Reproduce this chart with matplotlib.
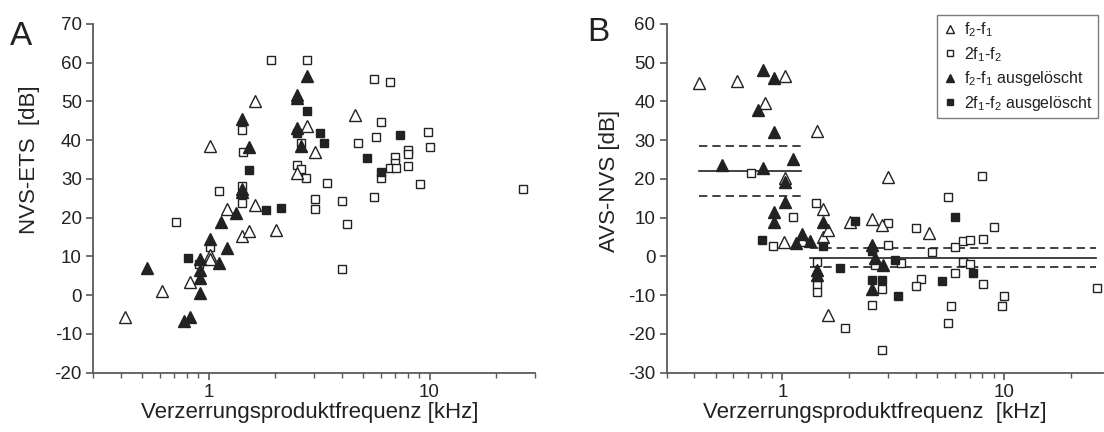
import matplotlib
matplotlib.use("Agg")
import matplotlib.pyplot as plt
from matplotlib.ticker import LogLocator, NullFormatter, FixedLocator, FixedFormatter
from matplotlib.lines import Line2D

plt.rcParams['font.family'] = ['Liberation Sans', 'DejaVu Sans']
plt.rcParams['mathtext.fontset'] = 'custom'
plt.rcParams['mathtext.rm'] = 'Liberation Sans'
plt.rcParams['axes.unicode_minus'] = False

# ---- panel A: NVS-ETS vs. distortion product frequency ----
a_tri_open_f = [1.615, 2.80, 1.02, 2.51, 1.615, 1.215, 1.41, 1.517, 2.02, 1.015, 1.015, 0.826, 0.617, 0.417, 4.61, 3.02]
a_tri_open_v = [50.1, 43.6, 38.5, 31.6, 23.4, 22.2, 15.4, 16.5, 16.9, 10.5, 9.3, 3.3, 1.2, -5.7, 46.5, 36.9]

a_sq_open_f = [1.91, 2.80, 5.62, 6.61, 1.415, 2.62, 1.43, 2.51, 2.63, 2.76, 1.113, 1.41, 1.41, 1.015, 0.904,
               0.714, 6.02, 5.71, 9.83, 4.74, 10.02, 8.03, 8.03, 7.0, 7.0, 8.03, 6.63, 7.05, 6.0, 3.43, 9.01,
               3.02, 3.02, 4.01, 5.62, 4.22, 4.01, 26.4]
a_sq_open_v = [60.7, 60.7, 55.8, 55.0, 42.6, 39.4, 37.0, 33.6, 32.5, 30.2, 26.9, 28.2, 23.7, 12.4, 8.0,
               18.8, 44.8, 40.9, 42.0, 39.2, 38.3, 37.5, 36.4, 35.8, 34.0, 33.4, 32.8, 32.8, 30.3, 28.9, 28.7,
               24.8, 22.2, 24.4, 25.3, 18.4, 6.7, 27.4]

a_tri_fill_f = [2.78, 2.50, 2.50, 1.415, 2.50, 2.62, 1.517, 1.415, 1.415, 1.325, 1.137, 1.014, 1.215, 0.917,
                1.113, 0.917, 0.917, 0.917, 0.526, 0.771, 0.82]
a_tri_fill_v = [56.7, 51.6, 50.8, 45.5, 43.1, 38.5, 38.3, 26.6, 27.5, 21.3, 19.0, 14.6, 12.3, 9.3,
                8.2, 6.5, 4.5, 0.5, 7.1, -6.7, -5.5]

a_sq_fill_f = [2.78, 2.50, 1.517, 1.81, 2.117, 0.806, 3.21, 3.32, 7.32, 5.23, 6.0]
a_sq_fill_v = [47.5, 41.8, 32.3, 22.0, 22.4, 9.5, 41.8, 39.2, 41.4, 35.3, 31.7]

# ---- panel B: AVS-NVS vs. distortion product frequency ----
b_tri_open_f = [0.421, 0.623, 1.028, 0.836, 1.43, 1.028, 1.52, 1.018, 1.223, 1.53, 1.61, 1.61, 2.02, 2.53,
                2.81, 2.99, 4.60]
b_tri_open_v = [44.7, 45.4, 46.6, 39.5, 32.5, 20.2, 12.2, 3.8, 4.3, 4.9, 6.8, -15.1, 9.0, 9.6,
                8.1, 20.6, 6.1]

b_sq_open_f = [0.72, 1.42, 1.12, 0.911, 1.43, 1.43, 1.43, 2.99, 2.99, 2.62, 2.83, 2.53, 5.61, 4.01, 9.01,
               7.93, 4.73, 6.01, 6.55, 7.03, 8.02, 3.43, 6.55, 7.03, 6.01, 4.22, 4.01, 8.02, 5.75, 10.0,
               9.77, 5.61, 1.92, 2.83, 26.2]
b_sq_open_v = [21.5, 13.7, 10.1, 2.8, -1.3, -7.4, -9.1, 8.7, 3.0, -2.2, -8.5, -12.5, 15.3, 7.3, 7.7,
               20.8, 1.2, 2.4, 4.0, 4.3, 4.4, -1.6, -1.3, -1.9, -4.2, -5.8, -7.6, -7.2, -12.7, -10.2,
               -12.8, -17.2, -18.4, -24.1, -8.2]

b_tri_fill_f = [0.821, 0.92, 0.774, 0.92, 0.533, 0.821, 1.12, 1.028, 1.028, 0.92, 0.92, 1.153, 1.223, 1.333,
                1.52, 1.43, 1.43, 2.53, 2.62, 2.84, 2.53]
b_tri_fill_v = [48.0, 46.0, 37.8, 32.2, 23.6, 22.8, 25.1, 19.1, 14.0, 11.5, 9.0, 3.4, 5.8, 4.0,
                9.0, -3.5, -4.8, 3.0, -0.3, -2.2, -8.5]

b_sq_fill_f = [0.807, 1.53, 2.13, 6.01, 1.82, 2.53, 3.22, 7.27, 5.24, 2.53, 2.83, 3.32]
b_sq_fill_v = [4.3, 2.7, 9.2, 10.1, -3.0, 1.5, -0.9, -4.2, -6.3, -6.1, -6.1, -10.1]

# group means with spread (solid = mean, dashed = +/- spread)
low_range = [0.42, 1.22]
low_mean, low_spread = 22.0, 6.5
high_range = [1.33, 26.0]
high_mean, high_spread = -0.3, 2.4

legend_labels = [r'f$_\mathregular{2}$-f$_\mathregular{1}$',
                 r'2f$_\mathregular{1}$-f$_\mathregular{2}$',
                 r'f$_\mathregular{2}$-f$_\mathregular{1}$ ausgelöscht',
                 r'2f$_\mathregular{1}$-f$_\mathregular{2}$ ausgelöscht']

ink = '#222222'
axis_grey = '#5a5a5a'

tri_open = dict(marker='^', ms=8, mfc='white', mec=ink, mew=1.0, ls='none')
sq_open = dict(marker='s', ms=5.5, mfc='white', mec=ink, mew=1.0, ls='none')
tri_fill = dict(marker='^', ms=8, mfc=ink, mec=ink, mew=1.0, ls='none')
sq_fill = dict(marker='s', ms=5.5, mfc=ink, mec=ink, mew=1.0, ls='none')

fig = plt.figure(figsize=(11.04, 4.32), dpi=100)
axA = fig.add_axes([93 / 1104, 1 - 372.7 / 432, 442 / 1104, 348.7 / 432])
axB = fig.add_axes([666.5 / 1104, 1 - 372.7 / 432, 436.5 / 1104, 348.7 / 432])


def style_axis(ax, ylim, yticks):
    ax.set_xscale('log')
    ax.set_ylim(*ylim)
    ax.set_yticks(yticks)
    ax.xaxis.set_major_locator(FixedLocator([1, 10]))
    ax.xaxis.set_major_formatter(FixedFormatter(['1', '10']))
    ax.xaxis.set_minor_locator(LogLocator(base=10, subs=range(2, 10)))
    ax.xaxis.set_minor_formatter(NullFormatter())
    for side in ('top', 'right'):
        ax.spines[side].set_visible(False)
    for side in ('left', 'bottom'):
        ax.spines[side].set_color(axis_grey)
        ax.spines[side].set_linewidth(1.3)
    ax.tick_params(which='major', direction='out', length=5, width=1.2, color=axis_grey,
                   labelsize=13.5, labelcolor=ink, pad=3)
    ax.tick_params(which='minor', direction='out', length=3.5, width=1.0, color=axis_grey)


# panel A
axA.plot(a_sq_open_f, a_sq_open_v, **sq_open)
axA.plot(a_tri_open_f, a_tri_open_v, **tri_open)
axA.plot(a_tri_fill_f, a_tri_fill_v, **tri_fill)
axA.plot(a_sq_fill_f, a_sq_fill_v, **sq_fill)
style_axis(axA, (-20, 70), range(-20, 71, 10))
axA.set_xlim(0.3, 30)
axA.set_xlabel('Verzerrungsproduktfrequenz [kHz]', fontsize=16, color=ink)
axA.set_ylabel('NVS-ETS  [dB]', fontsize=16, color=ink)
axA.xaxis.set_label_coords(0.49, -0.085)
axA.yaxis.set_label_coords(-0.12, 0.61)
fig.text(10 / 1104, 1 - 45 / 432, 'A', fontsize=24, color=ink)

# panel B
for lo, hi, mean, spread in [(low_range[0], low_range[1], low_mean, low_spread),
                             (high_range[0], high_range[1], high_mean, high_spread)]:
    axB.plot([lo, hi], [mean, mean], color=ink, lw=1.2)
    axB.plot([lo, hi], [mean + spread, mean + spread], color=ink, lw=1.2, ls=(0, (5, 3)))
    axB.plot([lo, hi], [mean - spread, mean - spread], color=ink, lw=1.2, ls=(0, (5, 3)))

axB.plot(b_sq_open_f, b_sq_open_v, **sq_open)
axB.plot(b_tri_open_f, b_tri_open_v, **tri_open)
axB.plot(b_tri_fill_f, b_tri_fill_v, **tri_fill)
axB.plot(b_sq_fill_f, b_sq_fill_v, **sq_fill)
style_axis(axB, (-30, 60), range(-30, 61, 10))
axB.set_xlim(0.3, 28)
axB.set_xlabel('Verzerrungsproduktfrequenz  [kHz]', fontsize=16, color=ink)
axB.set_ylabel('AVS-NVS [dB]', fontsize=16, color=ink)
axB.xaxis.set_label_coords(0.478, -0.085)
axB.yaxis.set_label_coords(-0.107, 0.55)
fig.text(587 / 1104, 1 - 41 / 432, 'B', fontsize=24, color=ink)

handles = [Line2D([], [], **dict(tri_open, ms=6)),
           Line2D([], [], **dict(sq_open, ms=4.5)),
           Line2D([], [], **dict(tri_fill, ms=6)),
           Line2D([], [], **dict(sq_fill, ms=4.5))]
leg = axB.legend(handles, legend_labels, loc='upper left',
                 bbox_to_anchor=(937 / 1104, 1 - 15 / 432), bbox_transform=fig.transFigure,
                 fontsize=11.5, frameon=True, fancybox=False, borderaxespad=0,
                 handlelength=0.9, handletextpad=0.45, labelspacing=0.35, borderpad=0.35)
leg.get_frame().set_edgecolor(axis_grey)
leg.get_frame().set_linewidth(1.0)
for t in leg.get_texts():
    t.set_color(ink)

fig.savefig('out.png', dpi=100)
